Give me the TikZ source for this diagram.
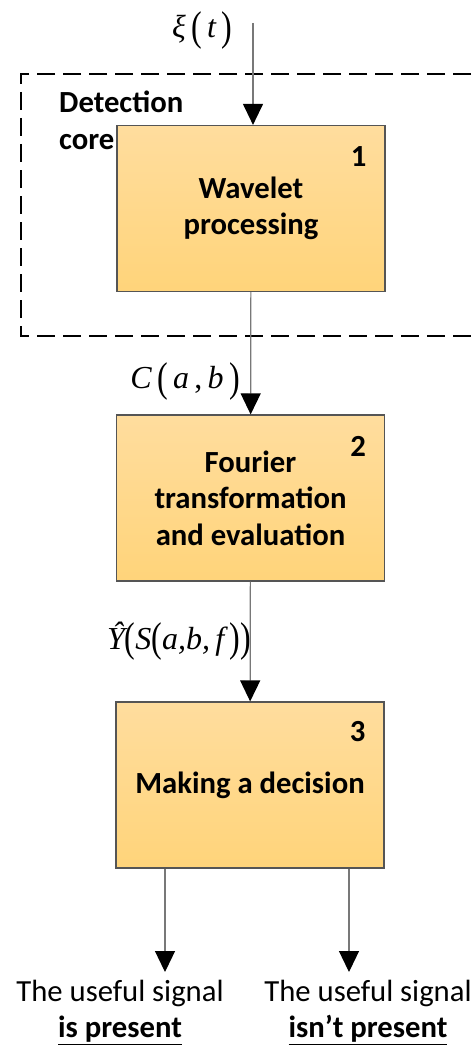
\documentclass[tikz,border=0pt]{standalone}
\usepackage{graphicx}
\usepackage{fontspec}
\setmainfont{Carlito}
\newfontfamily\serifm{Liberation Serif}
\usetikzlibrary{arrows.meta,calc}
\definecolor{boxtop}{RGB}{255,221,158}
\definecolor{boxbot}{RGB}{255,212,122}
\definecolor{edge}{RGB}{85,85,85}
\definecolor{wire}{RGB}{120,120,120}
\newcommand{\tallpar}[1]{\raisebox{-0.08em}{\scalebox{1}[1.3]{\upshape#1}}}

\begin{document}
\begin{tikzpicture}[x=1pt,y=-1pt,
    font=\fontsize{30.7}{36.5}\selectfont,
    block/.style={draw=edge,line width=1.2pt,top color=boxtop,bottom color=boxbot,
      minimum width=268pt,minimum height=166pt,inner sep=0pt,align=center,
      font=\fontsize{30.7}{36.5}\selectfont\bfseries},
    num/.style={inner sep=0pt,font=\fontsize{30.7}{36.5}\selectfont\bfseries},
    sig/.style={inner sep=0pt,font=\fontsize{32}{36}\selectfont\serifm\itshape},
    flow/.style={draw=wire,line width=1.2pt,
      -{Triangle[length=21pt,width=20pt,color=black,fill=black]}},
    coreframe/.style={draw=black,line width=2pt,dash pattern=on 18pt off 8pt},
    result/.style={inner sep=0pt,align=center}]
  \useasboundingbox (0,0) rectangle (471,1046);

  % detection core frame (open to the right)
  \draw[coreframe] (471,74) -| (21,336) -- (471,336);
  \node[anchor=north west,inner sep=0pt,align=left,font=\fontsize{30.7}{36.5}\selectfont\bfseries]
    (core) at (59,91) {Detection\\core};

  % processing blocks
  \node[block] (wav) at (251,208.5) {Wavelet\\processing};
  \node[block] (fou) at (250.5,498) {Fourier\\transformation\\and evaluation};
  \node[block] (dec) at (250,785) {Making a decision};
  \node[num] (n1) at ($(wav.north east)+(-27,32)$) {1};
  \node[num] (n2) at ($(fou.north east)+(-27,32)$) {2};
  \node[num] (n3) at ($(dec.north east)+(-27,30)$) {3};

  % signals
  \coordinate (src) at (253,23);
  \node[sig] (xi) at (202,30) {ξ\,\tallpar{(}\,t\,\tallpar{)}};
  \node[sig] (cab) at (185,381) {C\,\tallpar{(}\,a\,\upshape,\itshape\,b\,\tallpar{)}};
  \node[sig] (yhat) at (179,641) {Ŷ\tallpar{(}S\tallpar{(}a,b,\,f\,\tallpar{)}\tallpar{)}};
  \draw[flow] (src) -- (src |- wav.north);
  \draw[flow] (wav) -- (fou);
  \draw[flow] (fou) -- (dec);

  % decisions
  \coordinate (yes) at (165,972);
  \coordinate (no) at (349,972);
  \node[result] (tyes) at (120,1012) {The useful signal\\\underline{\textbf{is present}}};
  \node[result] (tno) at (368,1012) {The useful signal\\\underline{\textbf{isn’t present}}};
  \draw[flow] (dec.south -| yes) -- (yes);
  \draw[flow] (dec.south -| no) -- (no);
\end{tikzpicture}
\end{document}
